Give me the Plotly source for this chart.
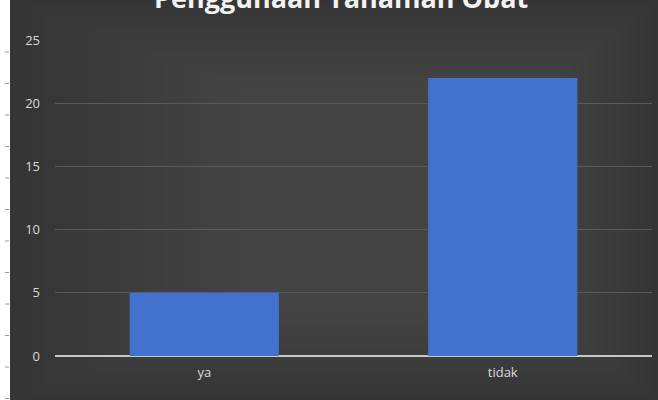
import plotly.graph_objects as go

categories = ["ya", "tidak"]
values = [5, 22]
y_ticks = [0, 5, 10, 15, 20, 25]
title_text = "Penggunaan Tanaman Obat"

W, H = 658, 400
ML, MR, MT, MB = 55, 6, 40, 44
pw = W - ML - MR
ph = H - MT - MB

def px_to_paper_x(p):
    return (p - ML) / pw

def px_to_paper_y(p):
    return (H - MB - p) / ph

fig = go.Figure(go.Bar(
    x=categories, y=values,
    marker=dict(color="#4272cd", line=dict(width=0)),
    hoverinfo="skip",
))

shapes = [
    dict(type="rect", xref="paper", yref="paper", layer="below",
         x0=px_to_paper_x(10), x1=px_to_paper_x(W + 2),
         y0=px_to_paper_y(H + 2), y1=px_to_paper_y(-2),
         fillcolor="#343434", line=dict(width=0)),
]
# soft vignette: layered translucent rects, lighter toward centre-right
for i in range(16):
    shapes.append(dict(type="rect", xref="paper", yref="paper", layer="below",
                       x0=px_to_paper_x(14 + i * 15), x1=px_to_paper_x(W + 2 - i * 8),
                       y0=px_to_paper_y(H + 2 - i * 6), y1=px_to_paper_y(-2 + i * 6),
                       fillcolor="rgba(255,255,255,0.008)", line=dict(width=0)))
# ruler ticks on the white strip at the left edge
for k in range(13):
    yy = 52 + k * 31.5
    shapes.append(dict(type="line", xref="paper", yref="paper",
                       x0=px_to_paper_x(5), x1=px_to_paper_x(9),
                       y0=px_to_paper_y(yy), y1=px_to_paper_y(yy),
                       line=dict(color="#9a9a9a", width=1)))

fig.update_layout(
    width=W, height=H,
    margin=dict(l=ML, r=MR, t=MT, b=MB, pad=0),
    paper_bgcolor="#ffffff",
    plot_bgcolor="rgba(0,0,0,0)",
    bargap=0.5,
    showlegend=False,
    font=dict(family="Open Sans", color="#d9d9d9", size=13),
    xaxis=dict(showgrid=False, zeroline=False, showline=False, ticks="",
               ticklabelstandoff=7, tickfont=dict(size=13, color="#d9d9d9")),
    yaxis=dict(range=[0, 25], tickvals=y_ticks, showgrid=True, gridcolor="#5a5a5a",
               gridwidth=1, zeroline=True, zerolinecolor="#c8c8c8", zerolinewidth=1.5,
               showline=False, ticks="", ticklabelstandoff=14,
               tickfont=dict(size=13, color="#d9d9d9")),
    shapes=shapes,
    annotations=[
        dict(text="<b>" + title_text + "</b>", xref="paper", yref="paper",
             x=px_to_paper_x(341), y=px_to_paper_y(17), xanchor="center", yanchor="bottom",
             showarrow=False, borderpad=0,
             font=dict(family="Open Sans", size=27, color="#f2f2f2")),
    ],
)

fig.write_html("out.html", config={"displayModeBar": False},
               post_script="document.body.style.margin='0';document.body.style.overflow='hidden';")
